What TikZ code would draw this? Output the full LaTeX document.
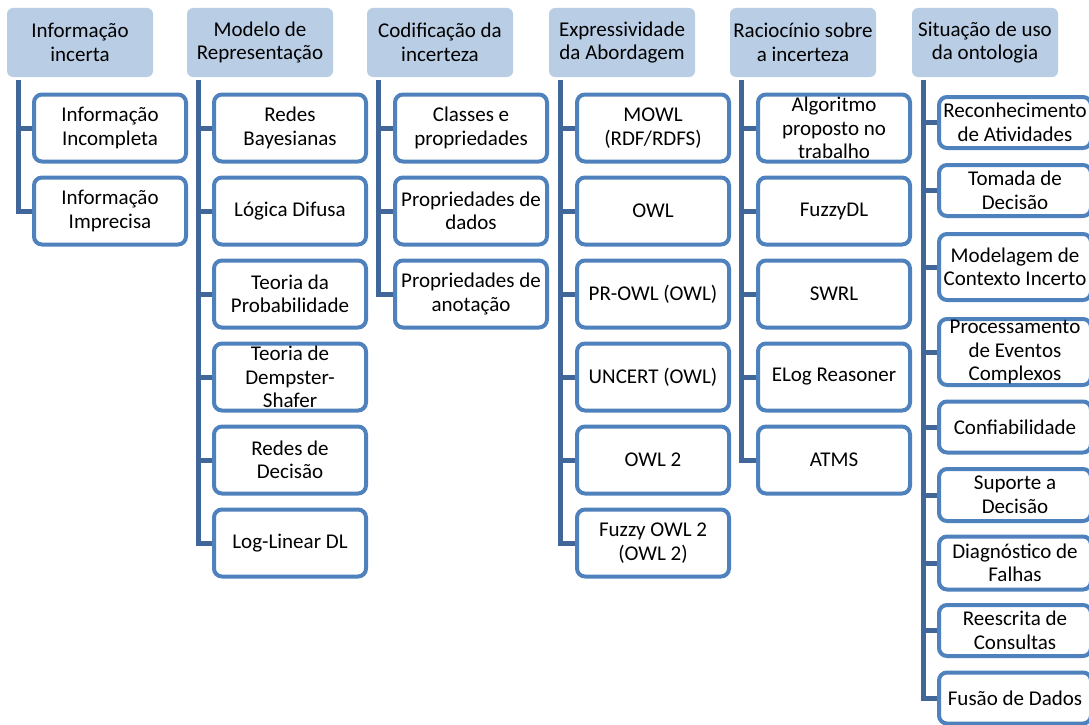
\documentclass[tikz,border=0pt]{standalone}
\usepackage{fontspec}
\setmainfont{Carlito}

\definecolor{azulclaro}{HTML}{B9CDE5}
\definecolor{azulborda}{HTML}{4F81BD}
\definecolor{azulescuro}{HTML}{41679A}

\begin{document}
\begin{tikzpicture}[x=1pt, y=-1pt]
	\tikzset{cabecalho/.style={fill=azulclaro, rounded corners=6pt, minimum width=146pt, minimum height=69pt, align=center, inner sep=0pt, font=\fontsize{21}{23.5}\selectfont},
	folha/.style={draw=azulborda, line width=4pt, fill=white, rounded corners=8pt, minimum width=152pt, minimum height=67pt, align=center, inner sep=0pt, font=\fontsize{21}{23.5}\selectfont},
	tronco/.style={draw=azulescuro, line width=5pt}};

	\useasboundingbox (0,0) rectangle (1089,725);
	\clip (0,0) rectangle (1089,725);

	% cabecalhos
	\foreach \name/\x/\texto in {h1/80/{Informação\\incerta}, h2/260/{Modelo de\\Representação}, h3/440/{Codificação da\\incerteza},
		h4/622/{Expressividade\\da Abordagem}, h5/803/{Raciocínio sobre\\a incerteza}, h6/985/{Situação de uso\\da ontologia}}{
		\node[cabecalho] (\name) at (\x, 42.5) {\texto};
		\coordinate (t-\name) at ([xshift=12pt, yshift=-3pt]\name.south west);
	}

	% coluna 1
	\foreach \k/\texto in {1/{Informação\\Incompleta}, 2/{Informação\\Imprecisa}}
		\node[folha] (c1-\k) at (110, 45+83*\k) {\texto};
	\draw[tronco] (t-h1) |- (c1-2.west);
	\draw[tronco] (t-h1 |- c1-1.west) -- (c1-1.west);

	% coluna 2
	\foreach \k/\texto in {1/{Redes\\Bayesianas}, 2/{Lógica Difusa}, 3/{Teoria da\\Probabilidade}, 4/{Teoria de\\Dempster-\\Shafer},
		5/{Redes de\\Decisão}, 6/{Log-Linear DL}}
		\node[folha] (c2-\k) at (290, 45+83*\k) {\texto};
	\draw[tronco] (t-h2) |- (c2-6.west);
	\foreach \k in {1,...,5}
		\draw[tronco] (t-h2 |- c2-\k.west) -- (c2-\k.west);

	% coluna 3
	\foreach \k/\texto in {1/{Classes e\\propriedades}, 2/{Propriedades de\\dados}, 3/{Propriedades de\\anotação}}
		\node[folha] (c3-\k) at (471, 45+83*\k) {\texto};
	\draw[tronco] (t-h3) |- (c3-3.west);
	\foreach \k in {1,2}
		\draw[tronco] (t-h3 |- c3-\k.west) -- (c3-\k.west);

	% coluna 4
	\foreach \k/\texto in {1/{MOWL\\(RDF/RDFS)}, 2/{OWL}, 3/{PR-OWL (OWL)}, 4/{UNCERT (OWL)}, 5/{OWL 2}, 6/{Fuzzy OWL 2\\(OWL 2)}}
		\node[folha] (c4-\k) at (653, 45+83*\k) {\texto};
	\draw[tronco] (t-h4) |- (c4-6.west);
	\foreach \k in {1,...,5}
		\draw[tronco] (t-h4 |- c4-\k.west) -- (c4-\k.west);

	% coluna 5
	\foreach \k/\texto in {1/{Algoritmo\\proposto no\\trabalho}, 2/{FuzzyDL}, 3/{SWRL}, 4/{ELog Reasoner}, 5/{ATMS}}
		\node[folha] (c5-\k) at (834, 45+83*\k) {\texto};
	\draw[tronco] (t-h5) |- (c5-5.west);
	\foreach \k in {1,...,4}
		\draw[tronco] (t-h5 |- c5-\k.west) -- (c5-\k.west);

	% coluna 6 (alturas diferentes)
	\foreach \k/\y/\h/\texto in {1/122.5/51/{Reconhecimento\\de Atividades}, 2/190.5/51/{Tomada de\\Decisão}, 3/267/66/{Modelagem de\\Contexto Incerto},
		4/352/66/{Processamento\\de Eventos\\Complexos}, 5/427/51/{Confiabilidade}, 6/495/52/{Suporte a\\Decisão},
		7/563/53/{Diagnóstico de\\Falhas}, 8/630.5/51/{Reescrita de\\Consultas}, 9/698/51/{Fusão de Dados}}
		\node[folha, minimum height=\h pt] (c6-\k) at (1015, \y) {\texto};
	\draw[tronco] (t-h6) |- (c6-9.west);
	\foreach \k in {1,...,8}
		\draw[tronco] (t-h6 |- c6-\k.west) -- (c6-\k.west);

\end{tikzpicture}
\end{document}
